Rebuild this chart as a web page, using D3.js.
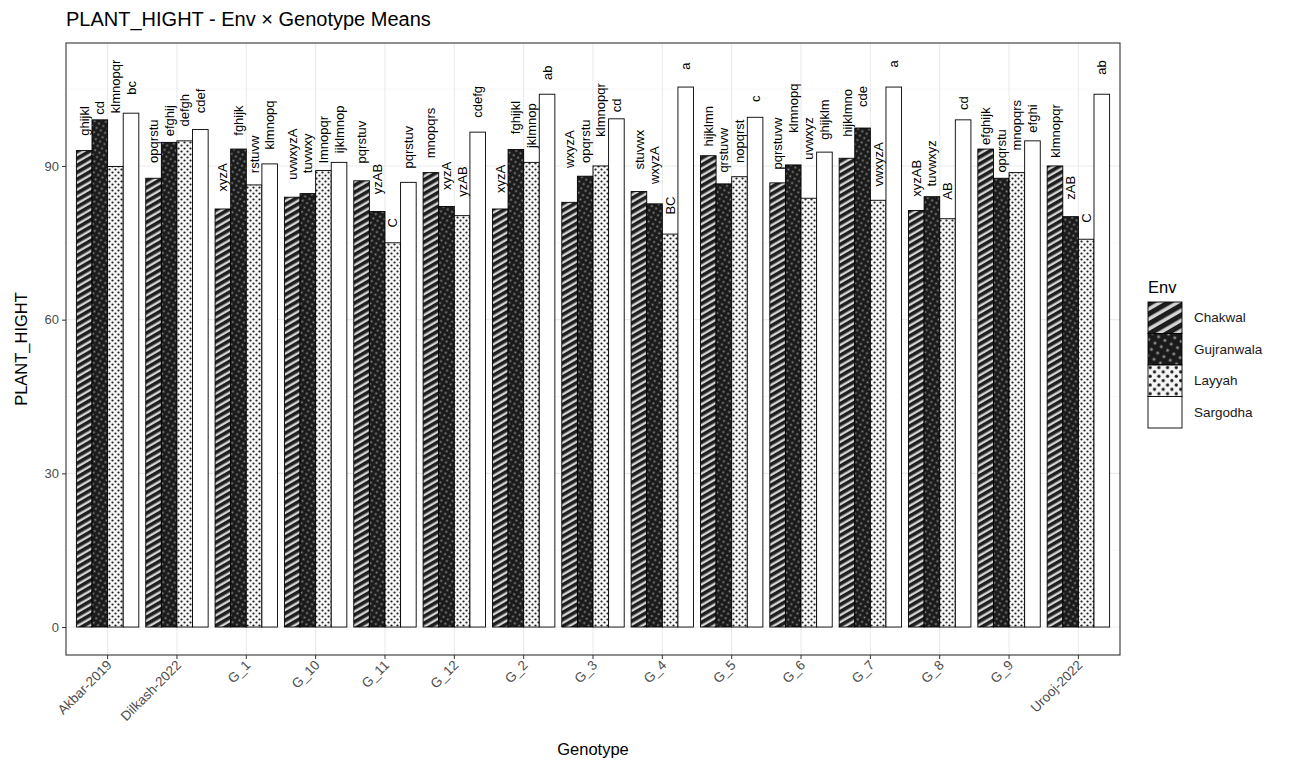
<!DOCTYPE html>
<html><head><meta charset="utf-8">
<script src="https://cdn.jsdelivr.net/npm/d3@7"></script>
<style>body{margin:0;background:#fff} text{font-family:"Liberation Sans",Arial,sans-serif}</style>
</head><body><svg id="c" width="1296" height="767"></svg>
<script>
const genotypes = ["Akbar-2019","Dilkash-2022","G_1","G_10","G_11","G_12","G_2","G_3","G_4","G_5","G_6","G_7","G_8","G_9","Urooj-2022"];
const envs = ["Chakwal","Gujranwala","Layyah","Sargodha"];
const yTicks = [0,30,60,90];
const chakwal    = [93.0, 87.6, 81.6, 83.9, 87.1, 88.7, 81.6, 82.9, 85.0, 92.0, 86.7, 91.5, 81.3, 93.3, 90.0];
const gujranwala = [99.0, 94.6, 93.3, 84.6, 81.1, 82.1, 93.2, 88.0, 82.6, 86.5, 90.2, 97.4, 84.0, 87.6, 80.1];
const layyah     = [89.9, 94.9, 86.3, 89.1, 75.0, 80.3, 90.7, 90.0, 76.7, 87.9, 83.7, 83.3, 79.7, 88.7, 75.7];
const sargodha   = [100.3, 97.1, 90.4, 90.7, 86.8, 96.6, 104.0, 99.2, 105.4, 99.5, 92.7, 105.4, 99.0, 94.9, 104.0];
const chakwalLbl    = ["ghijkl","opqrstu","xyzA","uvwxyzA","pqrstuv","mnopqrs","xyzA","wxyzA","stuvwx","hijklmn","pqrstuvw","hijklmno","xyzAB","efghijk","klmnopqr"];
const gujranwalaLbl = ["cd","efghij","fghijk","tuvwxy","yzAB","xyzA","fghijkl","opqrstu","wxyzA","qrstuvw","klmnopq","cde","tuvwxyz","opqrstu","zAB"];
const layyahLbl     = ["klmnopqr","defgh","rstuvw","lmnopqr","C","yzAB","jklmnop","klmnopqr","BC","nopqrst","uvwxyz","vwxyzA","AB","mnopqrs","C"];
const sargodhaLbl   = ["bc","cdef","klmnopq","ijklmnop","pqrstuv","cdefg","ab","cd","a","c","ghijklm","a","cd","efghi","ab"];
const chakwalLblY    = [95.9, 90.6, 85.0, 87.3, 90.5, 91.5, 84.7, 89.6, 89.3, 93.8, 89.3, 95.7, 84.0, 94.1, 91.6];
const gujranwalaLblY = [100.0, 95.8, 95.9, 88.6, 84.5, 85.3, 96.2, 90.6, 86.5, 88.7, 96.5, 101.5, 86.0, 88.7, 83.4];
const layyahLblY     = [100.3, 97.7, 88.6, 90.6, 78.0, 84.0, 93.5, 95.7, 80.5, 90.6, 91.2, 86.0, 83.4, 93.0, 78.9];
const sargodhaLblY   = [103.9, 100.3, 93.2, 92.5, 89.5, 99.4, 106.8, 100.5, 108.8, 102.5, 95.1, 109.2, 100.9, 96.5, 107.8];

const values = {Chakwal:chakwal, Gujranwala:gujranwala, Layyah:layyah, Sargodha:sargodha};
const labels = {Chakwal:chakwalLbl, Gujranwala:gujranwalaLbl, Layyah:layyahLbl, Sargodha:sargodhaLbl};
const labelY = {Chakwal:chakwalLblY, Gujranwala:gujranwalaLblY, Layyah:layyahLblY, Sargodha:sargodhaLblY};

const rows = [];
genotypes.forEach((g,i)=>envs.forEach(e=>rows.push({g, e, v:values[e][i], lbl:labels[e][i], ly:labelY[e][i]})));

const svg = d3.select("#c");
const P = {l:66, r:1120, t:43, b:655};

// patterns
const defs = svg.append("defs");
function mkPatterns(suffix, s){
  let p = defs.append("pattern").attr("id","pChakwal"+suffix).attr("patternUnits","userSpaceOnUse")
    .attr("width",6*s).attr("height",6*s).attr("patternTransform","rotate(-30)");
  p.append("rect").attr("width",6*s).attr("height",6*s).attr("fill","#d4d4d4");
  p.append("rect").attr("width",6*s).attr("height",3.6*s).attr("fill","#1e1e1e");
  p = defs.append("pattern").attr("id","pGujranwala"+suffix).attr("patternUnits","userSpaceOnUse")
    .attr("width",5*s).attr("height",5*s).attr("patternTransform","rotate(30)");
  p.append("rect").attr("width",5*s).attr("height",5*s).attr("fill","#1a1a1a");
  p.append("rect").attr("x",1.6*s).attr("y",1.6*s).attr("width",1.8*s).attr("height",1.8*s).attr("fill","#8c8c8c");
  p = defs.append("pattern").attr("id","pLayyah"+suffix).attr("patternUnits","userSpaceOnUse")
    .attr("width",6*s).attr("height",6*s);
  p.append("rect").attr("width",6*s).attr("height",6*s).attr("fill","#f5f5f5");
  p.append("circle").attr("cx",1.5*s).attr("cy",1.5*s).attr("r",1.1*s).attr("fill","#1e1e1e");
  p.append("circle").attr("cx",4.5*s).attr("cy",4.5*s).attr("r",1.1*s).attr("fill","#1e1e1e");
}
mkPatterns("",1);
mkPatterns("L",1.45);
const fillFor = (e,suf="") => e==="Sargodha" ? "#ffffff" : `url(#p${e}${suf})`;

const x = d3.scaleBand().domain(genotypes).range([P.l,P.r]).paddingInner(0.1).paddingOuter(0.15);
const xe = d3.scaleBand().domain(envs).range([0,x.bandwidth()]);
const y = d3.scaleLinear().domain([-5.46,114.0]).range([P.b,P.t]);

// panel bg + grid
svg.append("rect").attr("x",P.l).attr("y",P.t).attr("width",P.r-P.l).attr("height",P.b-P.t).attr("fill","#fff");
const grid = svg.append("g");
[15,45,75,105].forEach(v=>grid.append("line").attr("x1",P.l).attr("x2",P.r).attr("y1",y(v)).attr("y2",y(v)).attr("stroke","#f2f2f2").attr("stroke-width",0.6));
yTicks.forEach(v=>grid.append("line").attr("x1",P.l).attr("x2",P.r).attr("y1",y(v)).attr("y2",y(v)).attr("stroke","#ebebeb").attr("stroke-width",1.1));
genotypes.forEach(g=>grid.append("line").attr("x1",x(g)+x.bandwidth()/2).attr("x2",x(g)+x.bandwidth()/2).attr("y1",P.t).attr("y2",P.b).attr("stroke","#ebebeb").attr("stroke-width",1.1));

// bars
svg.append("g").selectAll("rect").data(rows).join("rect")
  .attr("x",d=>x(d.g)+xe(d.e)).attr("width",xe.bandwidth())
  .attr("y",d=>y(d.v)).attr("height",d=>y(0)-y(d.v))
  .attr("fill",d=>fillFor(d.e)).attr("stroke","#000").attr("stroke-width",0.9);

// letter labels
svg.append("g").selectAll("text").data(rows).join("text")
  .attr("transform",d=>`translate(${x(d.g)+xe(d.e)+xe.bandwidth()/2},${y(d.ly)}) rotate(-90)`)
  .attr("dy","0.35em").attr("text-anchor","start")
  .attr("font-size",13).attr("fill","#000").text(d=>d.lbl);

// border
svg.append("rect").attr("x",P.l).attr("y",P.t).attr("width",P.r-P.l).attr("height",P.b-P.t)
  .attr("fill","none").attr("stroke","#333").attr("stroke-width",1.1);

// axes
const ya = svg.append("g").attr("transform",`translate(${P.l},0)`)
  .call(d3.axisLeft(y).tickValues(yTicks).tickSize(4).tickPadding(3));
ya.select(".domain").remove();
ya.selectAll("line").attr("stroke","#333");
ya.selectAll("text").attr("font-size",13).attr("fill","#4d4d4d").attr("font-family","'Liberation Sans',Arial,sans-serif");

const xa = svg.append("g").attr("transform",`translate(0,${P.b})`)
  .call(d3.axisBottom(x).tickSize(4));
xa.select(".domain").remove();
xa.selectAll("line").attr("stroke","#333");
xa.selectAll("text").attr("font-size",13.5).attr("fill","#4d4d4d").attr("font-family","'Liberation Sans',Arial,sans-serif")
  .attr("text-anchor","end").attr("dy",null).attr("y",0)
  .attr("transform","translate(5,11) rotate(-45)");

// titles
svg.append("text").attr("x",P.l).attr("y",26).attr("font-size",20).attr("fill","#000")
  .text("PLANT_HIGHT - Env × Genotype Means");
svg.append("text").attr("transform",`translate(27,${(P.t+P.b)/2}) rotate(-90)`).attr("text-anchor","middle")
  .attr("font-size",16.5).attr("fill","#000").text("PLANT_HIGHT");
svg.append("text").attr("x",(P.l+P.r)/2).attr("y",755).attr("text-anchor","middle")
  .attr("font-size",16.5).attr("fill","#000").text("Genotype");

// legend
const lg = svg.append("g").attr("transform","translate(1148,0)");
lg.append("text").attr("x",0).attr("y",293).attr("font-size",16.5).attr("fill","#000").text("Env");
const ky = d3.scaleBand().domain(envs).range([302,428]);
envs.forEach(e=>{
  lg.append("rect").attr("x",0).attr("y",ky(e)).attr("width",34).attr("height",ky.bandwidth())
    .attr("fill",fillFor(e,"L")).attr("stroke","#000").attr("stroke-width",0.9);
  lg.append("text").attr("x",46).attr("y",ky(e)+ky.bandwidth()/2).attr("dy","0.35em")
    .attr("font-size",13.5).attr("fill","#1a1a1a").text(e);
});
</script></body></html>
